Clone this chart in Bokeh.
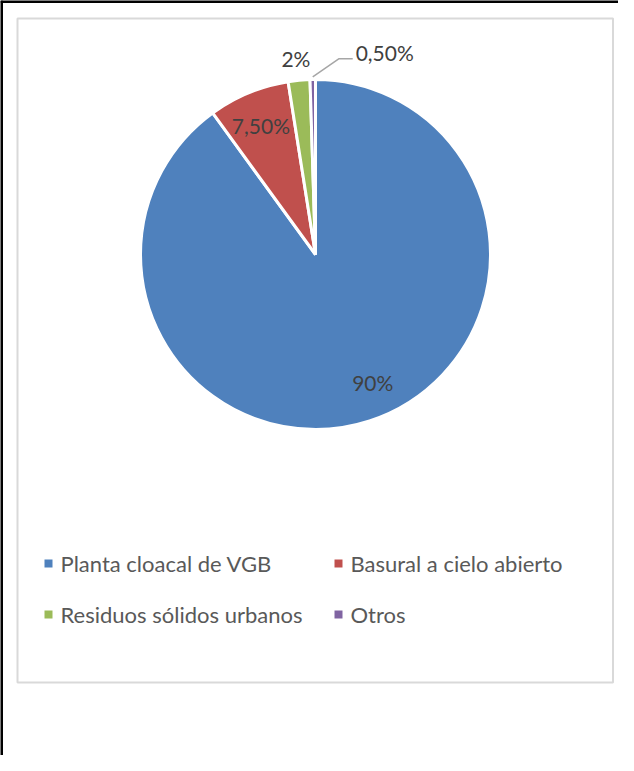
import math
from bokeh.plotting import figure
from bokeh.models import Range1d, ColumnDataSource
from bokeh.core.properties import value
from bokeh.embed import file_html
from bokeh.resources import INLINE

# ---- data ----
categories = ["Planta cloacal de VGB", "Basural a cielo abierto",
              "Residuos sólidos urbanos", "Otros"]
shares = [90.0, 7.5, 2.0, 0.5]
labels = ["90%", "7,50%", "2%", "0,50%"]
colors = ["#4F81BD", "#C0504D", "#9BBB59", "#8064A2"]

# ---- layout (pixel coordinates: x right, y = -pixel row) ----
W, H = 618, 755
CX, CY, R = 323, -262, 175
FONT = "Lato"

p = figure(width=W, height=H, output_backend="svg", toolbar_location=None,
           x_range=Range1d(8, 8 + W), y_range=Range1d(-8 - H, -8),
           x_axis_location=None, y_axis_location=None, min_border=0)
p.grid.visible = False
p.outline_line_color = None
p.background_fill_color = "white"
p.border_fill_color = "white"

# outer black frame (left and top edges) and gray chart-area frame
p.segment(x0=[9, 8], y0=[-8, -9], x1=[9, 8 + W], y1=[-8 - H, -9],
          line_color="black", line_width=3)
p.quad(left=[25], right=[620.5], top=[-26], bottom=[-690],
       fill_color=None, line_color="#D9D9D9", line_width=2)

# wedges, clockwise from 12 o'clock
total = sum(shares)
starts, ends, mids = [], [], []
cum = 0.0
for s in shares:
    a0 = math.pi / 2 - 2 * math.pi * cum / total
    cum += s
    a1 = math.pi / 2 - 2 * math.pi * cum / total
    starts.append(a0)
    ends.append(a1)
    mids.append((a0 + a1) / 2)

src = ColumnDataSource(dict(start=starts, end=ends, color=colors, cat=categories))
p.wedge(x=CX, y=CY, radius=R, start_angle="start", end_angle="end",
        direction="clock", fill_color="color", line_color="white",
        line_width=3, source=src)

# data labels: placed along each slice's mid-angle, with small nudges
rfac = [0.80, 0.80, 1.13, 1.13]
nudge_x = [14, -1, -1, 0]
nudge_y = [5, 0, -1, 0]
lx, ly = [], []
for i, m in enumerate(mids):
    lx.append(CX + rfac[i] * R * math.cos(m) + nudge_x[i])
    ly.append(CY + rfac[i] * R * math.sin(m) + nudge_y[i])
# the smallest slice label sits to the right with a leader line
edge_x = CX + R * 1.01 * math.cos(mids[3])
edge_y = CY + R * 1.01 * math.sin(mids[3])
lx[3] = edge_x + 72
ly[3] = edge_y + 25
p.line(x=[edge_x, edge_x + 26, edge_x + 40], y=[edge_y + 1, edge_y + 19, edge_y + 19],
       line_color="#A6A6A6", line_width=1.5)

p.text(x=lx, y=ly, text=labels, text_font=value(FONT), text_font_size="21px",
       text_color="#404040", text_align="center", text_baseline="middle")

# legend
leg_sq_x = [56, 346, 56, 346]
leg_y = [-571, -571, -622, -622]
p.scatter(x=leg_sq_x, y=leg_y, marker="square", size=8, fill_color=colors,
          line_color=None)
p.text(x=[x + 12 for x in leg_sq_x], y=leg_y, text=categories,
       text_font=value(FONT), text_font_size="22px", text_color="#595959",
       text_align="left", text_baseline="middle")

open("out.html", "w").write(file_html(p, INLINE))
